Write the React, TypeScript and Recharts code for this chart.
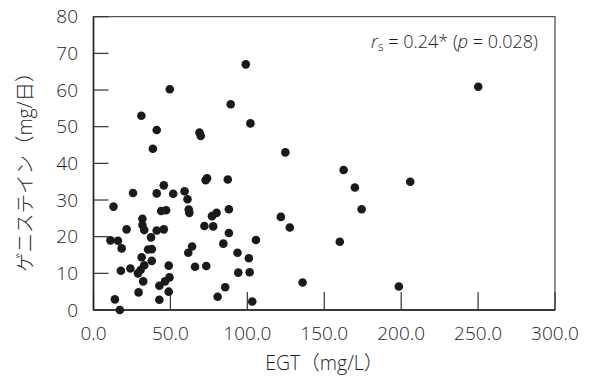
import React from 'react'
import {
  ScatterChart,
  Scatter,
  XAxis,
  YAxis,
  ReferenceArea,
} from 'recharts'

// EGT (mg/L)
const egt = [
  11.0, 13.0, 15.9, 18.3, 13.9, 17.1, 17.8, 21.5, 24.0, 25.7,
  29.3, 28.9, 31.1, 31.3, 31.8, 31.8, 33.0, 32.3, 33.0, 30.6,
  35.5, 37.4, 37.9, 37.9, 38.6, 41.1, 41.1, 41.1, 42.8, 42.8,
  44.0, 45.7, 45.7, 46.5, 47.2, 48.9, 48.9, 49.4, 49.6, 51.8,
  59.2, 61.1, 61.9, 62.3, 61.6, 64.1, 66.0, 68.9, 69.7, 72.1,
  72.9, 73.8, 73.3, 77.8, 77.0, 80.0, 80.7, 84.4, 85.6, 87.3,
  88.0, 88.0, 89.2, 93.6, 94.1, 99.0, 101.0, 101.5, 102.0, 103.2,
  105.6, 121.8, 124.7, 127.6, 135.9, 160.1, 162.6, 169.9, 174.3, 198.5,
  205.9, 250.1,
]

// ゲニステイン (mg/日)
const genistein = [
  19.0, 28.2, 18.9, 16.8, 2.9, 0.0, 10.7, 22.0, 11.3, 31.9,
  4.8, 10.0, 53.0, 14.4, 24.9, 23.2, 21.8, 7.8, 12.2, 10.9,
  16.5, 19.8, 13.4, 16.6, 44.0, 49.1, 31.8, 21.7, 2.8, 6.6,
  27.0, 34.0, 22.0, 7.8, 27.2, 5.0, 12.1, 8.9, 60.2, 31.7,
  32.4, 30.2, 27.4, 26.5, 15.6, 17.3, 11.8, 48.4, 47.5, 22.9,
  35.4, 35.9, 12.0, 22.8, 25.6, 26.5, 3.6, 18.1, 6.2, 35.6,
  27.5, 21.0, 56.1, 15.6, 10.2, 67.0, 14.1, 10.3, 50.9, 2.3,
  19.1, 25.4, 43.0, 22.5, 7.5, 18.6, 38.2, 33.4, 27.5, 6.4,
  35.0, 60.9,
]

const xTicks = [0, 50, 100, 150, 200, 250, 300]
const yTicks = [0, 10, 20, 30, 40, 50, 60, 70, 80]

const xTitle = 'EGT（mg/L）'
const yTitle = 'ゲニステイン（mg/日）'

const data = egt.map((x, i) => ({ x, y: genistein[i] }))

const FONT = "'Open Sans', 'Noto Sans CJK JP', sans-serif"
const TEXT = '#1e1e1e'

function Dot(props: any) {
  const { cx, cy } = props
  return <circle cx={cx} cy={cy} r={4.3} fill="#1a1a1a" />
}

function XTitle({ viewBox }: any) {
  return (
    <text
      x={viewBox.x + viewBox.width / 2}
      y={viewBox.y + 60}
      textAnchor="middle"
      fontFamily={FONT}
      fontWeight={300}
      fontSize={19.5}
      fill={TEXT}
    >
      {xTitle}
    </text>
  )
}

function YTitle({ viewBox }: any) {
  const cx = viewBox.x + 25
  const cy = viewBox.y + viewBox.height / 2 + 4
  return (
    <text
      x={cx}
      y={cy}
      transform={`rotate(-90, ${cx}, ${cy})`}
      textAnchor="middle"
      dominantBaseline="central"
      fontFamily={FONT}
      fontWeight={300}
      fontSize={19.5}
      fill={TEXT}
    >
      {yTitle}
    </text>
  )
}

function StatNote({ viewBox }: any) {
  return (
    <text
      x={viewBox.x + viewBox.width - 17}
      y={viewBox.y + 31}
      textAnchor="end"
      fontFamily={FONT}
      fontWeight={300}
      fontSize={18}
      fill={TEXT}
    >
      <tspan fontStyle="italic">r</tspan>
      <tspan fontSize={12} dy={3}>s</tspan>
      <tspan dy={-3}> = 0.24* (</tspan>
      <tspan fontStyle="italic">p</tspan>
      <tspan> = 0.028)</tspan>
    </text>
  )
}

export default function App() {
  const tickStyle = { fontSize: 19, fontFamily: FONT, fontWeight: 300, fill: TEXT }
  return (
    <div style={{ position: 'absolute', left: 0, top: 0, width: 589, height: 379, background: '#fff' }}>
      <ScatterChart width={589} height={379} margin={{ top: 16.7, right: 34, bottom: 0, left: 0 }}>
        <ReferenceArea
          x1={0}
          x2={300}
          y1={0}
          y2={80}
          fill="none"
          stroke="#555"
          strokeWidth={1.3}
          label={<StatNote />}
        />
        <XAxis
          type="number"
          dataKey="x"
          domain={[0, 300]}
          ticks={xTicks}
          tickFormatter={(v: number) => v.toFixed(1)}
          height={69}
          axisLine={{ stroke: '#222', strokeWidth: 1.5 }}
          tickLine={{ stroke: '#333', strokeWidth: 1.2 }}
          tickSize={-18}
          tickMargin={34.5}
          tick={tickStyle}
          interval={0}
          label={<XTitle />}
        />
        <YAxis
          type="number"
          dataKey="y"
          domain={[0, 80]}
          ticks={yTicks}
          width={93.5}
          axisLine={{ stroke: '#222', strokeWidth: 1.5 }}
          tickLine={{ stroke: '#333', strokeWidth: 1.2 }}
          tickSize={-15}
          tickMargin={30.5}
          tick={tickStyle}
          interval={0}
          label={<YTitle />}
        />
        <Scatter data={data} shape={<Dot />} isAnimationActive={false} />
      </ScatterChart>
    </div>
  )
}
